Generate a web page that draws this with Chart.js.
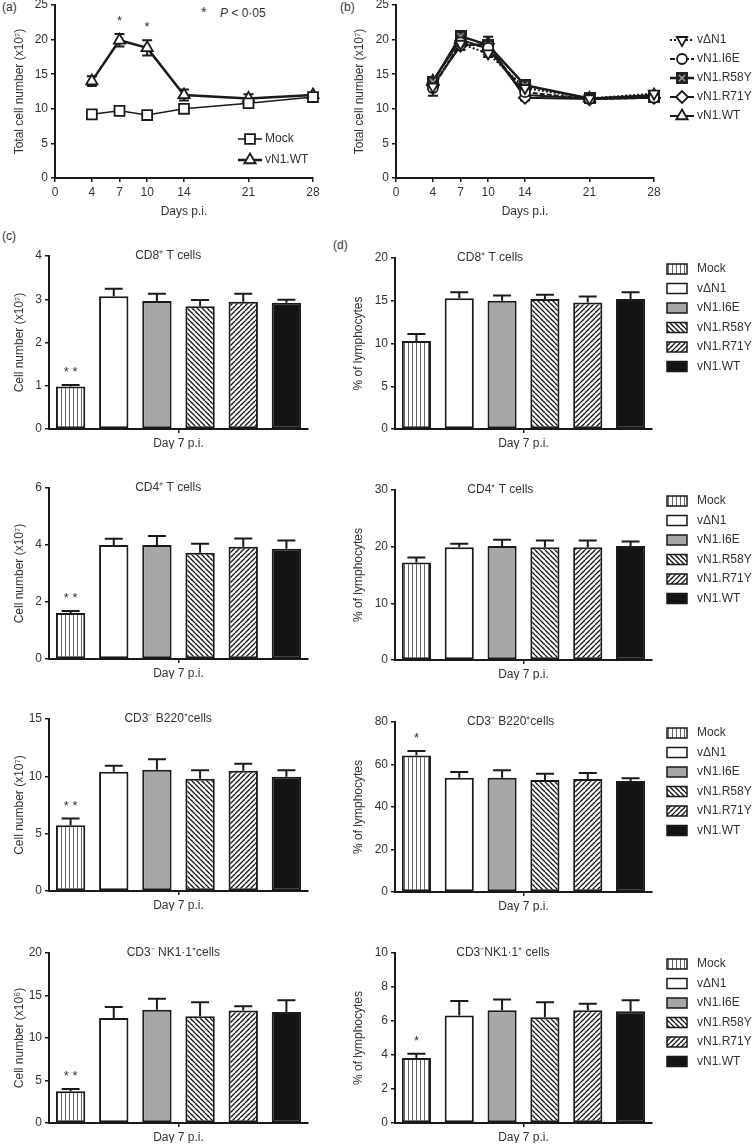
<!DOCTYPE html>
<html>
<head>
<meta charset="utf-8">
<script src="https://cdn.jsdelivr.net/npm/chart.js@4.4.1/dist/chart.umd.min.js"></script>
<style>
  body { margin: 0; width: 754px; height: 1148px; position: relative; overflow: hidden; background: #fff;
         font-family: "Liberation Sans", Arial, sans-serif; color: #333; }
  canvas { position: absolute; }
  .lab { position: absolute; font-size: 12px; }
</style>
</head>
<body>
<div class="lab" style="left:2px;top:0px">(a)</div>
<div class="lab" style="left:340px;top:0px">(b)</div>
<div class="lab" style="left:2px;top:229px">(c)</div>
<div class="lab" style="left:333px;top:238px">(d)</div>
<div class="lab" style="left:201px;top:4px;font-size:14px">*</div>
<div class="lab" style="left:220px;top:6px"><i>P</i> &lt; 0·05</div>
<script>
// time course, panels (a) and (b)
const days = [4, 7, 10, 14, 21, 28];
const dayTicks = [0, 4, 7, 10, 14, 21, 28];
const mockLine = [9.2, 9.7, 9.1, 10.0, 10.8, 11.7];
const mockLineErr = [0.3, 0.3, 0.4, 0.3, 0.3, 0.3];
const wtLine = [14.0, 19.9, 18.8, 12.0, 11.5, 12.0];
const wtLineErr = [0.7, 0.9, 1.1, 0.8, 0.6, 0.3];
const sigA = ['', '*', '*', '', '', ''];

const dN1Line = [13.2, 19.4, 18.0, 13.0, 11.5, 12.2];
const dN1LineErr = [0.3, 0.4, 0.5, 0.4, 0.2, 0.3];
const i6eLine = [13.0, 19.6, 18.8, 12.4, 11.4, 11.6];
const i6eLineErr = [1.1, 0.5, 0.6, 0.5, 0.3, 0.3];
const r58Line = [13.9, 20.5, 19.2, 13.4, 11.5, 11.7];
const r58LineErr = [0.4, 0.5, 0.6, 0.4, 0.3, 0.3];
const r71Line = [13.4, 19.1, 19.4, 11.6, 11.4, 11.6];
const r71LineErr = [0.5, 0.6, 1.0, 0.4, 0.3, 0.3];
const wtLineB = [14.0, 20.0, 18.7, 12.0, 11.5, 12.0];
const wtLineBErr = [0.5, 0.7, 0.9, 0.6, 0.3, 0.3];

// day 7 bars, panels (c) and (d)
const groups = ['Mock', 'v\u0394N1', 'vN1.I6E', 'vN1.R58Y', 'vN1.R71Y', 'vN1.WT'];
const day7 = ['Day 7 p.i.'];
const cd8Count = [0.98, 3.07, 2.96, 2.84, 2.94, 2.92];
const cd8CountErr = [0.04, 0.17, 0.17, 0.14, 0.19, 0.07];
const cd8Pct = [10.3, 15.3, 15.0, 15.2, 14.8, 15.2];
const cd8PctErr = [0.8, 0.7, 0.6, 0.5, 0.7, 0.8];
const cd4Count = [1.61, 4.0, 4.0, 3.73, 3.94, 3.87];
const cd4CountErr = [0.07, 0.22, 0.32, 0.31, 0.29, 0.29];
const cd4Pct = [17.2, 19.9, 20.1, 19.9, 19.9, 20.1];
const cd4PctErr = [0.9, 0.6, 1.1, 1.2, 1.2, 0.8];
const b220Count = [5.74, 10.4, 10.57, 9.79, 10.49, 9.96];
const b220CountErr = [0.58, 0.52, 0.93, 0.75, 0.61, 0.56];
const b220Pct = [64.2, 53.8, 53.8, 52.7, 53.2, 52.2];
const b220PctErr = [2.2, 2.7, 3.5, 3.0, 2.8, 1.3];
const nkCount = [3.73, 12.35, 13.33, 12.55, 13.25, 13.06];
const nkCountErr = [0.27, 1.3, 1.3, 1.65, 0.48, 1.37];
const nkPct = [3.82, 6.33, 6.63, 6.22, 6.63, 6.57];
const nkPctErr = [0.26, 0.85, 0.64, 0.88, 0.39, 0.65];
const sigCount = ['* *', '', '', '', '', ''];
const sigNone = ['', '', '', '', '', ''];
const sigOne = ['*', '', '', '', '', ''];

const FONT = '"Liberation Sans", Arial, sans-serif';
const INK = '#1a1a1a';
Chart.defaults.font.family = FONT;
Chart.defaults.font.size = 12;
Chart.defaults.color = '#333';
Chart.defaults.animation = false;

function pattern(kind) {
  const s = kind === 'vert' ? 4 : 5;
  const c = document.createElement('canvas');
  c.width = s; c.height = s;
  const g = c.getContext('2d');
  g.fillStyle = '#fff';
  g.fillRect(0, 0, s, s);
  g.strokeStyle = kind === 'vert' ? '#666' : '#111';
  g.lineWidth = kind === 'vert' ? 1 : 1.3;
  g.beginPath();
  if (kind === 'vert') {
    g.moveTo(1.5, 0); g.lineTo(1.5, s);
  } else {
    for (const k of [-s, 0, s]) {
      if (kind === 'back') { g.moveTo(k, 0); g.lineTo(k + s, s); }
      else { g.moveTo(k, s); g.lineTo(k + s, 0); }
    }
  }
  g.stroke();
  return g.createPattern(c, 'repeat');
}
const fills = [pattern('vert'), '#ffffff', '#a6a6a6', pattern('back'), pattern('fwd'), '#141414'];

function boxX() {
  const c = document.createElement('canvas');
  c.width = 12; c.height = 12;
  const g = c.getContext('2d');
  g.fillStyle = '#222'; g.fillRect(0, 0, 12, 12);
  g.strokeStyle = '#aaa'; g.lineWidth = 1.3;
  g.beginPath(); g.moveTo(3, 3); g.lineTo(9, 9); g.moveTo(9, 3); g.lineTo(3, 9); g.stroke();
  return c;
}

function valueOf(raw) { return typeof raw === 'object' ? raw.y : raw; }

function drawErrors(chart, both) {
  const ctx = chart.ctx, y = chart.scales.y;
  chart.data.datasets.forEach((ds, i) => {
    if (!ds.errors) return;
    chart.getDatasetMeta(i).data.forEach((el, j) => {
      const v = valueOf(ds.data[j]), e = ds.errors[j];
      if (!e) return;
      const top = y.getPixelForValue(v + e);
      const bot = both ? y.getPixelForValue(v - e) : el.y;
      const cap = ds.capHalf || 5;
      ctx.save();
      ctx.strokeStyle = INK; ctx.lineWidth = 2; ctx.setLineDash([]);
      ctx.beginPath();
      ctx.moveTo(el.x, bot); ctx.lineTo(el.x, top);
      ctx.moveTo(el.x - cap, top); ctx.lineTo(el.x + cap, top);
      if (both) { ctx.moveTo(el.x - cap, bot); ctx.lineTo(el.x + cap, bot); }
      ctx.stroke();
      ctx.restore();
    });
  });
}

function drawSig(chart) {
  const ctx = chart.ctx, y = chart.scales.y;
  chart.data.datasets.forEach((ds, i) => {
    if (!ds.sig) return;
    chart.getDatasetMeta(i).data.forEach((el, j) => {
      if (!ds.sig[j]) return;
      const v = valueOf(ds.data[j]) + (ds.errors ? ds.errors[j] : 0);
      ctx.save();
      ctx.fillStyle = '#333'; ctx.font = '13px ' + FONT;
      ctx.textAlign = 'center'; ctx.textBaseline = 'alphabetic';
      ctx.fillText(ds.sig[j], el.x, y.getPixelForValue(v) - 9);
      ctx.restore();
    });
  });
}

const errorBars = {
  id: 'errorBars',
  beforeDatasetsDraw(chart) { if (chart.config.type === 'line') drawErrors(chart, true); },
  afterDatasetsDraw(chart) {
    if (chart.config.type === 'bar') drawErrors(chart, false);
    drawSig(chart);
  }
};

const panelTitle = {
  id: 'panelTitle',
  afterDraw(chart, args, o) {
    if (!o.text) return;
    const a = chart.chartArea, ctx = chart.ctx;
    ctx.save();
    ctx.fillStyle = '#333'; ctx.font = '12px ' + FONT;
    ctx.textAlign = 'center'; ctx.textBaseline = 'middle';
    ctx.fillText(o.text, a.left + o.fx * (a.right - a.left), a.top);
    ctx.restore();
  }
};

const boxLegend = {
  id: 'boxLegend',
  afterDraw(chart, args, o) {
    if (!o.show) return;
    const ctx = chart.ctx, top = chart.chartArea.top + o.dy;
    chart.data.datasets.forEach((ds, i) => {
      const y = top + i * o.step;
      ctx.save();
      ctx.fillStyle = ds.backgroundColor;
      ctx.fillRect(o.x, y - 5, 20, 10);
      ctx.strokeStyle = INK; ctx.lineWidth = 1.5;
      ctx.strokeRect(o.x, y - 5, 20, 10);
      ctx.fillStyle = '#333'; ctx.font = '12px ' + FONT;
      ctx.textAlign = 'left'; ctx.textBaseline = 'middle';
      ctx.fillText(ds.label, o.x + 30, y);
      ctx.restore();
    });
  }
};

const lineLegend = {
  id: 'lineLegend',
  afterDraw(chart, args, o) {
    if (!o.show) return;
    const ctx = chart.ctx, top = chart.chartArea.top + o.dy;
    chart.data.datasets.forEach((ds, i) => {
      const y = top + i * o.step;
      ctx.save();
      ctx.strokeStyle = ds.borderColor; ctx.lineWidth = ds.borderWidth;
      ctx.setLineDash(ds.borderDash || []);
      ctx.beginPath(); ctx.moveTo(o.x, y); ctx.lineTo(o.x + o.len, y); ctx.stroke();
      ctx.setLineDash([]);
      ctx.fillStyle = ds.pointBackgroundColor; ctx.strokeStyle = ds.pointBorderColor;
      ctx.lineWidth = ds.pointBorderWidth;
      if (Chart.helpers && Chart.helpers.drawPoint) {
        Chart.helpers.drawPoint(ctx, {
          pointStyle: ds.pointStyle, radius: ds.pointRadius,
          rotation: ds.pointRotation || 0, borderWidth: ds.pointBorderWidth
        }, o.x + o.len / 2, y);
      }
      ctx.fillStyle = '#333'; ctx.font = '12px ' + FONT;
      ctx.textAlign = 'left'; ctx.textBaseline = 'middle';
      ctx.fillText(ds.label, o.x + o.len + 3, y);
      ctx.restore();
    });
  }
};

function axis(extra) {
  return Object.assign({
    grid: { drawOnChartArea: false, drawTicks: true, tickLength: 4, color: INK, lineWidth: 1.5 },
    border: { display: true, color: INK, width: 2 },
    ticks: { color: '#333', padding: 3, font: { size: 12 } }
  }, extra);
}

function panel(g, config) {
  const c = document.createElement('canvas');
  c.width = g.cr - g.cx;
  c.height = g.B - g.T + 40 + g.eb;
  c.style.left = g.cx + 'px';
  c.style.top = (g.T - 40) + 'px';
  document.body.appendChild(c);
  config.options.responsive = false;
  config.options.layout = { padding: { left: g.pl, right: g.cr - g.R, top: 40, bottom: g.eb - g.xh } };
  config.options.scales.y.afterFit = s => { s.width = g.L - g.cx - g.pl; };
  config.options.scales.x.afterFit = s => { s.height = g.xh; };
  config.plugins = [errorBars, panelTitle, boxLegend, lineLegend];
  return new Chart(c, config);
}

function series(label, vals, errs, style) {
  return Object.assign({
    label: label,
    data: days.map((d, i) => ({ x: d, y: vals[i] })),
    errors: errs,
    borderColor: INK, borderWidth: 2,
    pointBackgroundColor: '#fff', pointBorderColor: INK, pointBorderWidth: 1.8,
    pointRadius: 6, tension: 0, fill: false, clip: false, capHalf: 5
  }, style);
}

function lineOptions(legend) {
  return {
    plugins: { legend: { display: false }, tooltip: { enabled: false }, lineLegend: legend },
    scales: {
      x: axis({
        type: 'linear', min: 0, max: 28,
        afterBuildTicks: s => { s.ticks = dayTicks.map(v => ({ value: v })); },
        title: { display: true, text: 'Days p.i.', color: '#333', font: { size: 12 } }
      }),
      y: axis({
        min: 0, max: 25,
        ticks: { stepSize: 5, color: '#333', padding: 3 },
        title: { display: true, text: 'Total cell number (x10\u2077)', color: '#333', font: { size: 12 } }
      })
    }
  };
}

// (a)
panel({ cx: 0, cr: 340, pl: 8, L: 55, R: 313, T: 5, B: 178, eb: 50, xh: 45 }, {
  type: 'line',
  data: {
    datasets: [
      series('Mock', mockLine, mockLineErr, { pointStyle: 'rect', pointRadius: 7, borderWidth: 1.5 }),
      series('vN1.WT', wtLine, wtLineErr, { pointStyle: 'triangle', pointRadius: 6.5, borderWidth: 2.5, sig: sigA })
    ]
  },
  options: lineOptions({ show: true, x: 238, dy: 134, step: 21, len: 24 })
});

// (b)
panel({ cx: 340, cr: 754, pl: 8, L: 396, R: 654, T: 5, B: 178, eb: 50, xh: 45 }, {
  type: 'line',
  data: {
    datasets: [
      series('v\u0394N1', dN1Line, dN1LineErr, { pointStyle: 'triangle', pointRotation: 180, pointRadius: 6, borderDash: [2, 2] }),
      series('vN1.I6E', i6eLine, i6eLineErr, { pointStyle: 'circle', pointRadius: 5, borderDash: [5, 2] }),
      series('vN1.R58Y', r58Line, r58LineErr, { pointStyle: boxX(), borderWidth: 2.5 }),
      series('vN1.R71Y', r71Line, r71LineErr, { pointStyle: 'rectRot', pointRadius: 6 }),
      series('vN1.WT', wtLineB, wtLineBErr, { pointStyle: 'triangle', pointRadius: 6.5 })
    ]
  },
  options: lineOptions({ show: true, x: 330, dy: 35, step: 19, len: 24 })
});

function barPanel(g, values, errs, sig, yMax, yStep, yTitle, title, fx, legend) {
  return panel(g, {
    type: 'bar',
    data: {
      labels: day7,
      datasets: groups.map((name, i) => ({
        label: name, data: [values[i]], errors: [errs[i]], sig: [sig[i]],
        backgroundColor: fills[i], borderColor: INK, borderWidth: 2, borderSkipped: false,
        barPercentage: 0.68, categoryPercentage: 1.0, capHalf: 9
      }))
    },
    options: {
      plugins: {
        legend: { display: false }, tooltip: { enabled: false },
        panelTitle: { text: title, fx: fx },
        boxLegend: legend
      },
      scales: {
        x: axis({ grid: { offset: false, drawOnChartArea: false, drawTicks: true, tickLength: 4, color: INK, lineWidth: 1.5 } }),
        y: axis({
          min: 0, max: yMax,
          ticks: { stepSize: yStep, color: '#333', padding: 3 },
          title: { display: true, text: yTitle, color: '#333', font: { size: 12 } }
        })
      }
    }
  });
}

const leftG = (T, B) => ({ cx: 0, cr: 335, pl: 8, L: 49, R: 308, T: T, B: B, eb: 30, xh: 20 });
const rightG = (T, B) => ({ cx: 335, cr: 754, pl: 12, L: 395, R: 652, T: T, B: B, eb: 30, xh: 20 });
const legendOn = { show: true, x: 332, dy: 11, step: 19.5 };
const countTitle = 'Cell number (x10\u2077)';
const pctTitle = '% of lymphocytes';

barPanel(leftG(256, 429), cd8Count, cd8CountErr, sigCount, 4, 1, countTitle, 'CD8\u207A T cells', 0.46, {});
barPanel(rightG(258, 429), cd8Pct, cd8PctErr, sigNone, 20, 5, pctTitle, 'CD8\u207A T cells', 0.37, legendOn);
barPanel(leftG(488, 659), cd4Count, cd4CountErr, sigCount, 6, 2, countTitle, 'CD4\u207A T cells', 0.46, {});
barPanel(rightG(490, 660), cd4Pct, cd4PctErr, sigNone, 30, 10, pctTitle, 'CD4\u207A T cells', 0.41, legendOn);
barPanel(leftG(719, 891), b220Count, b220CountErr, sigCount, 15, 5, countTitle, 'CD3\u207B B220\u207Acells', 0.46, {});
barPanel(rightG(722, 892), b220Pct, b220PctErr, sigOne, 80, 20, pctTitle, 'CD3\u207B B220\u207Acells', 0.45, legendOn);
barPanel(leftG(953, 1123), nkCount, nkCountErr, sigCount, 20, 5, 'Cell number (x10\u2076)', 'CD3\u207B NK1\u00B71\u207Acells', 0.48, {});
barPanel(rightG(953, 1123), nkPct, nkPctErr, sigOne, 10, 2, pctTitle, 'CD3\u207BNK1\u00B71\u207A cells', 0.42, legendOn);
</script>
</body>
</html>
